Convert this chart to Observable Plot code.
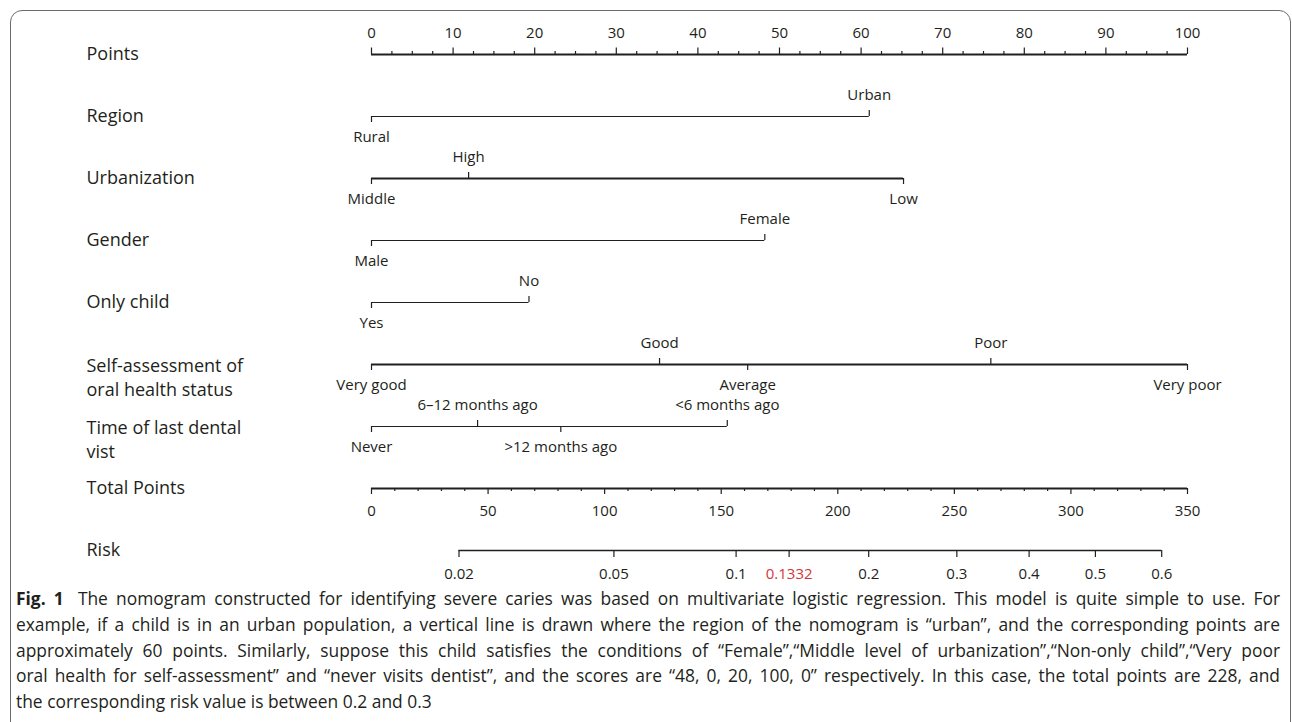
<!DOCTYPE html>
<html><head><meta charset="utf-8">
<script src="https://cdn.jsdelivr.net/npm/d3@7"></script>
<script src="https://cdn.jsdelivr.net/npm/@observablehq/plot@0.6"></script>
<style>
html,body{margin:0;padding:0;background:#fff;width:1292px;height:722px;overflow:hidden;font-family:"Open Sans",sans-serif;color:#231f20}
#frame{position:absolute;left:10px;top:10px;width:1281px;height:760px;border:1.5px solid #6b6b6b;border-radius:12px;box-sizing:border-box}
#chart{position:absolute;left:0;top:0}
#caption{position:absolute;left:16px;top:586px;width:1264px;font-size:17.4px;line-height:25.8px}
#caption div{white-space:nowrap;text-align:justify;text-align-last:justify}
#caption div.last{text-align-last:left}
#caption b{margin-right:6px}
</style></head><body>
<div id="frame"></div><div id="chart"></div>
<div id="caption">
<div><b>Fig. 1</b> The nomogram constructed for identifying severe caries was based on multivariate logistic regression. This model is quite simple to use. For</div>
<div>example, if a child is in an urban population, a vertical line is drawn where the region of the nomogram is “urban”, and the corresponding points are</div>
<div>approximately 60 points. Similarly, suppose this child satisfies the conditions of “Female”,“Middle level of urbanization”,“Non-only child”,“Very poor</div>
<div>oral health for self-assessment” and “never visits dentist”, and the scores are “48, 0, 20, 100, 0” respectively. In this case, the total points are 228, and</div>
<div class="last">the corresponding risk value is between 0.2 and 0.3</div>
</div>
<script>
// ---- rows ----
const rowNames = ["Points","Region","Urbanization","Gender","Only child","Self-assessment","Time of last dental vist","Total Points","Risk"];
const rowLine1 = ["Points","Region","Urbanization","Gender","Only child","Self-assessment of","Time of last dental","Total Points","Risk"];
const rowLine2 = ["","","","","","oral health status","vist","",""];

// ---- axes ----
const pointsTicks = [0,10,20,30,40,50,60,70,80,90,100];
const totalTicks = [0,50,100,150,200,250,300,350];
const riskTicks = [0.02,0.05,0.1,0.1332,0.2,0.3,0.4,0.5,0.6];
const riskHighlight = 0.1332;

// ---- predictors (levels and points) ----
const regionLevels = ["Rural","Urban"];
const regionPoints = [0, 61];
const urbanLevels = ["Middle","High","Low"];
const urbanPoints = [0, 11.9, 65.2];
const genderLevels = ["Male","Female"];
const genderPoints = [0, 48.2];
const onlyChildLevels = ["Yes","No"];
const onlyChildPoints = [0, 19.3];
const selfLevels = ["Very good","Good","Average","Poor","Very poor"];
const selfPoints = [0, 35.3, 46.1, 75.9, 100];
const visitLevels = ["Never","6–12 months ago",">12 months ago","<6 months ago"];
const visitPoints = [0, 13.0, 23.2, 43.6];

// logistic link of the risk axis
const totalMax = 350;
const riskHalfTotal = 310.5;   // total points where risk = 0.5
const totalPerLogit = 70.14;   // total points per logit unit

// ---- styles ----
const ink = "#231f20";
const red = "#d2373a";
const lineWidth = {"Points":2, "Region":1.2, "Urbanization":2, "Gender":1.2, "Only child":1.2,
  "Self-assessment":2, "Time of last dental vist":1.2, "Total Points":2, "Risk":1.3};

// ---- tables built from arrays ----
const rows = rowNames.map((r,i)=>({row:r, l1:rowLine1[i], l2:rowLine2[i]}));
const vars = [
  [rowNames[1], regionLevels, regionPoints],
  [rowNames[2], urbanLevels, urbanPoints],
  [rowNames[3], genderLevels, genderPoints],
  [rowNames[4], onlyChildLevels, onlyChildPoints],
  [rowNames[5], selfLevels, selfPoints],
  [rowNames[6], visitLevels, visitPoints]
];
const levels = [];
const varLines = [];
for (const [row, labs, pts] of vars) {
  const order = d3.range(pts.length).sort((a,b)=>pts[a]-pts[b]);
  order.forEach((k, rank) => levels.push({row, label: labs[k], points: pts[k], above: rank % 2 === 1}));
  varLines.push({row, min: d3.min(pts), max: d3.max(pts), sw: lineWidth[row]});
}
const above = levels.filter(d=>d.above), below = levels.filter(d=>!d.above);

const toX = v => v * 100 / totalMax;
const riskX = p => toX(riskHalfTotal + totalPerLogit * Math.log(p/(1-p)));
const pointsMinor = d3.range(0, 100.001, 2.5).filter(v => v % 10 !== 0);
const totalMinor = d3.range(0, totalMax + 0.001, 10).filter(v => v % 50 !== 0);
const P = rowNames[0], T = rowNames[7], R = rowNames[8];
const multi = rows.filter(d=>d.l2);
const single = rows.filter(d=>!d.l2);

const chart = Plot.plot({
  width: 1292, height: 590,
  marginLeft: 371, marginRight: 105, marginTop: 52, marginBottom: 38,
  style: {fontFamily: "'Open Sans', sans-serif", fontSize: "15px", background: "transparent", color: ink, overflow: "visible"},
  x: {domain: [0, 100], axis: null},
  y: {type: "point", domain: rowNames, axis: null, padding: 0},
  marks: [
    // row titles
    Plot.text(single, {y: "row", text: "l1", frameAnchor: "left", dx: -285, textAnchor: "start", fontSize: 18, fill: ink}),
    Plot.text(multi, {y: "row", text: "l1", frameAnchor: "left", dx: -285, dy: 1.5, textAnchor: "start", fontSize: 18, fill: ink}),
    Plot.text(multi, {y: "row", text: "l2", frameAnchor: "left", dx: -285, dy: 25.5, textAnchor: "start", fontSize: 18, fill: ink}),
    // Points scale
    Plot.ruleY([P], {y: d=>d, x1: ()=>d3.min(pointsTicks), x2: ()=>d3.max(pointsTicks), stroke: ink, strokeWidth: lineWidth[P]}),
    Plot.ruleX(pointsTicks, {x: d=>d, y1: ()=>P, y2: ()=>P, insetTop: -6.5, stroke: ink, strokeWidth: 1.2}),
    Plot.ruleX(pointsMinor, {x: d=>d, y1: ()=>P, y2: ()=>P, insetTop: -3, stroke: ink, strokeWidth: 1.2}),
    Plot.text(pointsTicks, {x: d=>d, y: ()=>P, text: d=>String(d), dy: -21.5, fill: ink}),
    // predictor lines
    Plot.ruleY(varLines, {y: "row", x1: "min", x2: "max", stroke: ink, strokeWidth: "sw"}),
    Plot.ruleX(above, {x: "points", y1: "row", y2: "row", insetTop: -6, stroke: ink, strokeWidth: 1.2}),
    Plot.ruleX(below, {x: "points", y1: "row", y2: "row", insetBottom: -6, stroke: ink, strokeWidth: 1.2}),
    Plot.text(above, {x: "points", y: "row", text: "label", dy: -21, fill: ink}),
    Plot.text(below, {x: "points", y: "row", text: "label", dy: 21, fill: ink}),
    // Total points
    Plot.ruleY([T], {y: d=>d, x1: ()=>toX(d3.min(totalTicks)), x2: ()=>toX(d3.max(totalTicks)), stroke: ink, strokeWidth: lineWidth[T]}),
    Plot.ruleX(totalTicks, {x: toX, y1: ()=>T, y2: ()=>T, insetBottom: -6, stroke: ink, strokeWidth: 1.2}),
    Plot.ruleX(totalMinor, {x: toX, y1: ()=>T, y2: ()=>T, insetBottom: -3, stroke: ink, strokeWidth: 1.2}),
    Plot.text(totalTicks, {x: toX, y: ()=>T, text: d=>String(d), dy: 23, fill: ink}),
    // Risk
    Plot.ruleY([R], {y: d=>d, x1: ()=>riskX(d3.min(riskTicks)), x2: ()=>riskX(d3.max(riskTicks)), stroke: ink, strokeWidth: lineWidth[R]}),
    Plot.ruleX(riskTicks, {x: riskX, y1: ()=>R, y2: ()=>R, insetBottom: -7, stroke: ink, strokeWidth: 1.2}),
    Plot.text(riskTicks.filter(d=>d!==riskHighlight), {x: riskX, y: ()=>R, text: d=>String(d), dy: 24, fill: ink}),
    Plot.text([riskHighlight], {x: riskX, y: ()=>R, text: d=>String(d), dy: 24, fill: red})
  ]
});
document.getElementById("chart").appendChild(chart);
</script></body></html>
